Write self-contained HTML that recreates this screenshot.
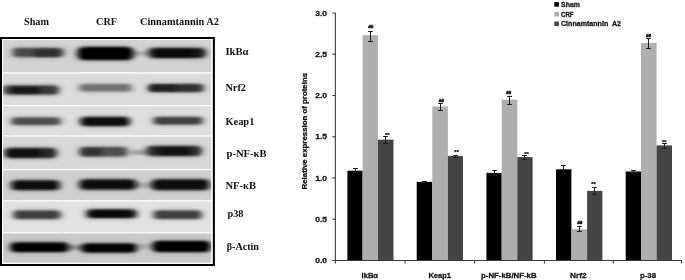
<!DOCTYPE html>
<html><head><meta charset="utf-8"><title>Figure</title>
<style>
html,body{margin:0;padding:0;background:#fff;}
body{width:685px;height:280px;overflow:hidden;}
svg{display:block}
.h{font-family:"Liberation Serif","DejaVu Serif",serif;font-weight:bold;font-size:11px;fill:#111}
.c{font-family:"Liberation Sans","DejaVu Sans",sans-serif;font-weight:bold;fill:#151515;stroke:#151515;stroke-width:0.3px}
</style></head><body>
<svg width="685" height="280" viewBox="0 0 685 280">
<defs>
<filter id="b" x="-20%" y="-60%" width="140%" height="220%"><feGaussianBlur stdDeviation="3 1.3"/></filter>
<filter id="b2" x="-30%" y="-100%" width="160%" height="300%"><feGaussianBlur stdDeviation="2.5 1.2"/></filter>
<filter id="b3" x="-30%" y="-100%" width="160%" height="300%"><feGaussianBlur stdDeviation="4 2.4"/></filter>
<clipPath id="cp"><rect x="3" y="39.5" width="208.4" height="223.1"/></clipPath>
<filter id="t" x="-5%" y="-20%" width="110%" height="140%"><feGaussianBlur stdDeviation="0.3"/></filter>
</defs>
<rect x="0" y="0" width="685" height="280" fill="#fff"/>

<rect x="1" y="38" width="212.7" height="227" fill="#fff" stroke="#000" stroke-width="2"/>
<rect x="3" y="39.5" width="208.4" height="32.7" fill="#d3d3d3"/>
<rect x="3" y="73.6" width="208.4" height="31.4" fill="#dcdcdc"/>
<rect x="3" y="106.2" width="208.4" height="29.2" fill="#dedede"/>
<rect x="3" y="136.6" width="208.4" height="32.4" fill="#d8d8d8"/>
<rect x="3" y="170.2" width="208.4" height="30.0" fill="#d0d0d0"/>
<rect x="3" y="201.4" width="208.4" height="30.8" fill="#e2e2e2"/>
<rect x="3" y="233.4" width="208.4" height="29.2" fill="#cacaca"/>
<g clip-path="url(#cp)">
<g filter="url(#b2)">
<rect x="132" y="51.5" width="18" height="4.0" rx="2.0" fill="#a8a8a8"/>
<rect x="130" y="150" width="20" height="5.0" rx="2.5" fill="#a4a4a4"/>
<rect x="134" y="183" width="20" height="5.0" rx="2.5" fill="#aaaaaa"/>
<rect x="66" y="245" width="18" height="5.0" rx="2.5" fill="#8c8c8c"/>
<rect x="135" y="244" width="20" height="5.0" rx="2.5" fill="#aaaaaa"/>
</g>
<g filter="url(#b3)" opacity="0.35">
<rect x="12" y="47.5" width="52" height="10.0" rx="5.0" fill="#4c4c4c"/>
<rect x="77" y="46.5" width="57" height="14.0" rx="7.0" fill="#000"/>
<rect x="148" y="47.5" width="58" height="11.0" rx="5.5" fill="#141414"/>
<rect x="3" y="85.1" width="56" height="9.8" rx="4.9" fill="#383838"/>
<rect x="79" y="83.5" width="53" height="8.6" rx="4.3" fill="#737373"/>
<rect x="148" y="83.5" width="56" height="9.0" rx="4.5" fill="#303030"/>
<rect x="11" y="117.1" width="50" height="8.4" rx="4.2" fill="#505050"/>
<rect x="80" y="116.5" width="50" height="10.0" rx="5.0" fill="#0c0c0c"/>
<rect x="153" y="116.5" width="50" height="8.4" rx="4.2" fill="#404040"/>
<rect x="4" y="147.5" width="53" height="11.0" rx="5.5" fill="#262626"/>
<rect x="79" y="146.5" width="49" height="10.4" rx="5.2" fill="#505050"/>
<rect x="146" y="145.5" width="56" height="11.0" rx="5.5" fill="#2a2a2a"/>
<rect x="11" y="180.1" width="49" height="10.4" rx="5.2" fill="#080808"/>
<rect x="79" y="178.9" width="58" height="11.0" rx="5.5" fill="#080808"/>
<rect x="151" y="178.9" width="59" height="11.6" rx="5.8" fill="#0c0c0c"/>
<rect x="13" y="210.1" width="48" height="9.4" rx="4.7" fill="#404040"/>
<rect x="86" y="208.9" width="51" height="9.6" rx="4.8" fill="#121212"/>
<rect x="153" y="210.1" width="49" height="9.4" rx="4.7" fill="#404040"/>
<rect x="10" y="241.9" width="59" height="10.6" rx="5.3" fill="#050505"/>
<rect x="81" y="242.9" width="56" height="10.2" rx="5.1" fill="#050505"/>
<rect x="152" y="240.5" width="59" height="12.0" rx="6.0" fill="#050505"/>
</g>
<g filter="url(#b)">
<rect x="13" y="48.0" width="50" height="9.0" rx="3.8" fill="#4c4c4c"/>
<rect x="78" y="47.0" width="55" height="13.0" rx="5.4" fill="#000"/>
<rect x="149" y="48.0" width="56" height="10.0" rx="4.2" fill="#141414"/>
<rect x="4" y="85.6" width="54" height="8.8" rx="3.7" fill="#383838"/>
<rect x="80" y="84.0" width="51" height="7.6" rx="3.2" fill="#737373"/>
<rect x="149" y="84.0" width="54" height="8.0" rx="3.3" fill="#303030"/>
<rect x="12" y="117.6" width="48" height="7.4" rx="3.1" fill="#505050"/>
<rect x="81" y="117.0" width="48" height="9.0" rx="3.8" fill="#0c0c0c"/>
<rect x="154" y="117.0" width="48" height="7.4" rx="3.1" fill="#404040"/>
<rect x="5" y="148.0" width="51" height="10.0" rx="4.2" fill="#262626"/>
<rect x="80" y="147.0" width="47" height="9.4" rx="3.9" fill="#505050"/>
<rect x="147" y="146.0" width="54" height="10.0" rx="4.2" fill="#2a2a2a"/>
<rect x="12" y="180.6" width="47" height="9.4" rx="3.9" fill="#080808"/>
<rect x="80" y="179.4" width="56" height="10.0" rx="4.2" fill="#080808"/>
<rect x="152" y="179.4" width="57" height="10.6" rx="4.4" fill="#0c0c0c"/>
<rect x="14" y="210.6" width="46" height="8.4" rx="3.5" fill="#404040"/>
<rect x="87" y="209.4" width="49" height="8.6" rx="3.6" fill="#121212"/>
<rect x="154" y="210.6" width="47" height="8.4" rx="3.5" fill="#404040"/>
<rect x="11" y="242.4" width="57" height="9.6" rx="4.0" fill="#050505"/>
<rect x="82" y="243.4" width="54" height="9.2" rx="3.8" fill="#050505"/>
<rect x="153" y="241.0" width="57" height="11.0" rx="4.6" fill="#050505"/>
</g>
<g filter="url(#b2)">
<rect x="34" y="49.5" width="26" height="7.0" rx="3.5" fill="#222" opacity="0.7"/>
<rect x="156" y="49.5" width="38" height="7.5" rx="3.8" fill="#000" opacity="0.6"/>
<rect x="12" y="87" width="28" height="6.5" rx="3.2" fill="#000" opacity="0.6"/>
<rect x="150" y="85.5" width="26" height="5.5" rx="2.8" fill="#111" opacity="0.6"/>
<rect x="8" y="149.5" width="32" height="7.5" rx="3.8" fill="#000" opacity="0.6"/>
<rect x="82" y="148.5" width="20" height="7.0" rx="3.5" fill="#222" opacity="0.6"/>
<rect x="158" y="147.5" width="32" height="7.5" rx="3.8" fill="#000" opacity="0.6"/>
<rect x="92" y="210.5" width="38" height="6.5" rx="3.2" fill="#000" opacity="0.6"/>
</g>
</g>
<rect x="1" y="38" width="212.7" height="227" fill="none" stroke="#000" stroke-width="2"/>
<rect x="2.5" y="39.5" width="209.7" height="224" fill="none" stroke="#fff" stroke-width="1"/>
<g filter="url(#t)">
<text class="h" x="24" y="25" textLength="25" lengthAdjust="spacingAndGlyphs">Sham</text>
<text class="h" x="96" y="25" textLength="21" lengthAdjust="spacingAndGlyphs">CRF</text>
<text class="h" x="140" y="25" textLength="79" lengthAdjust="spacingAndGlyphs">Cinnamtannin A2</text>
<text class="h" x="225.4" y="55.4" textLength="23.2" lengthAdjust="spacingAndGlyphs">IkBα</text>
<text class="h" x="225.4" y="91.4" textLength="20.6" lengthAdjust="spacingAndGlyphs">Nrf2</text>
<text class="h" x="225.4" y="124.7" textLength="29.0" lengthAdjust="spacingAndGlyphs">Keap1</text>
<text class="h" x="226.5" y="156.5" textLength="40.1" lengthAdjust="spacingAndGlyphs">p-NF-κB</text>
<text class="h" x="225.4" y="189.1" textLength="30.6" lengthAdjust="spacingAndGlyphs">NF-κB</text>
<text class="h" x="227.4" y="216.7" textLength="16.1" lengthAdjust="spacingAndGlyphs">p38</text>
<text class="h" x="226.7" y="250.3" textLength="32.3" lengthAdjust="spacingAndGlyphs">β-Actin</text>
</g>
<g stroke="#3c3c3c" stroke-width="1.1" fill="none">
<line x1="335.35" y1="13" x2="335.35" y2="260.9"/>
<line x1="332.35" y1="260.5" x2="681.8" y2="260.5"/>
<line x1="332.35" y1="260.50" x2="335.35" y2="260.50"/>
<line x1="332.35" y1="219.25" x2="335.35" y2="219.25"/>
<line x1="332.35" y1="178.00" x2="335.35" y2="178.00"/>
<line x1="332.35" y1="136.75" x2="335.35" y2="136.75"/>
<line x1="332.35" y1="95.50" x2="335.35" y2="95.50"/>
<line x1="332.35" y1="54.25" x2="335.35" y2="54.25"/>
<line x1="332.35" y1="13.00" x2="335.35" y2="13.00"/>
<line x1="335.35" y1="260.5" x2="335.35" y2="263.5"/>
<line x1="405.00" y1="260.5" x2="405.00" y2="263.5"/>
<line x1="474.50" y1="260.5" x2="474.50" y2="263.5"/>
<line x1="544.40" y1="260.5" x2="544.40" y2="263.5"/>
<line x1="613.40" y1="260.5" x2="613.40" y2="263.5"/>
<line x1="681.50" y1="260.5" x2="681.50" y2="263.5"/>
</g>
<rect x="347.4" y="170.7" width="15.2" height="89.3" fill="#000"/>
<rect x="362.6" y="35.2" width="15.3" height="224.8" fill="#aeaeae"/>
<rect x="377.9" y="139.7" width="15.6" height="120.3" fill="#444"/>
<rect x="416.7" y="181.9" width="15.6" height="78.1" fill="#000"/>
<rect x="432.3" y="106.5" width="15.6" height="153.5" fill="#aeaeae"/>
<rect x="447.9" y="156.1" width="15.1" height="103.9" fill="#444"/>
<rect x="486.4" y="172.9" width="15.3" height="87.1" fill="#000"/>
<rect x="501.7" y="99.6" width="15.6" height="160.4" fill="#aeaeae"/>
<rect x="517.3" y="157.1" width="15.3" height="102.9" fill="#444"/>
<rect x="556.0" y="169.3" width="15.4" height="90.7" fill="#000"/>
<rect x="571.4" y="229.2" width="15.7" height="30.8" fill="#aeaeae"/>
<rect x="587.1" y="190.9" width="15.3" height="69.1" fill="#444"/>
<rect x="625.7" y="171.5" width="15.3" height="88.5" fill="#000"/>
<rect x="641.0" y="42.9" width="15.6" height="217.1" fill="#aeaeae"/>
<rect x="656.6" y="145.4" width="15.4" height="114.6" fill="#444"/>
<g stroke="#1c1c1c" stroke-width="1" fill="none">
<path d="M355.50 168.50V172.50M353.10 168.50H357.90M353.10 172.50H357.90"/>
<path d="M370.50 31.50V41.50M368.10 31.50H372.90M368.10 41.50H372.90"/>
<path d="M385.50 136.50V143.50M383.10 136.50H387.90M383.10 143.50H387.90"/>
<path d="M424.50 181.50V182.50M422.10 181.50H426.90M422.10 182.50H426.90"/>
<path d="M440.50 103.50V110.50M438.10 103.50H442.90M438.10 110.50H442.90"/>
<path d="M455.50 155.50V157.50M453.10 155.50H457.90M453.10 157.50H457.90"/>
<path d="M494.50 170.50V175.50M492.10 170.50H496.90M492.10 175.50H496.90"/>
<path d="M509.50 96.50V104.50M507.10 96.50H511.90M507.10 104.50H511.90"/>
<path d="M524.50 155.50V159.50M522.10 155.50H526.90M522.10 159.50H526.90"/>
<path d="M563.50 165.50V173.50M561.10 165.50H565.90M561.10 173.50H565.90"/>
<path d="M579.50 226.50V231.50M577.10 226.50H581.90M577.10 231.50H581.90"/>
<path d="M594.50 187.50V194.50M592.10 187.50H596.90M592.10 194.50H596.90"/>
<path d="M633.50 170.50V172.50M631.10 170.50H635.90M631.10 172.50H635.90"/>
<path d="M648.50 38.50V48.50M646.10 38.50H650.90M646.10 48.50H650.90"/>
<path d="M664.50 143.50V148.50M662.10 143.50H666.90M662.10 148.50H666.90"/>
</g>
<g class="c" text-anchor="middle">
<text x="370.85" y="27.90" font-size="4.2px" stroke-width="0.45" textLength="5.2" lengthAdjust="spacingAndGlyphs">##</text>
<text x="441.30" y="101.90" font-size="4.2px" stroke-width="0.45" textLength="5.2" lengthAdjust="spacingAndGlyphs">##</text>
<text x="508.60" y="94.30" font-size="4.2px" stroke-width="0.45" textLength="5.2" lengthAdjust="spacingAndGlyphs">##</text>
<text x="579.85" y="223.60" font-size="4.2px" stroke-width="0.45" textLength="5.2" lengthAdjust="spacingAndGlyphs">##</text>
<text x="648.50" y="36.90" font-size="4.2px" stroke-width="0.45" textLength="5.2" lengthAdjust="spacingAndGlyphs">##</text>
<text x="387.35" y="136.90" font-size="4.5px" stroke-width="0.2" textLength="4.6" lengthAdjust="spacingAndGlyphs">**</text>
<text x="456.65" y="153.80" font-size="4.5px" stroke-width="0.2" textLength="4.6" lengthAdjust="spacingAndGlyphs">**</text>
<text x="526.45" y="155.50" font-size="4.5px" stroke-width="0.2" textLength="4.6" lengthAdjust="spacingAndGlyphs">**</text>
<text x="593.55" y="185.50" font-size="4.5px" stroke-width="0.2" textLength="4.6" lengthAdjust="spacingAndGlyphs">**</text>
<text x="664.30" y="143.50" font-size="4.5px" stroke-width="0.2" textLength="4.6" lengthAdjust="spacingAndGlyphs">**</text>
</g>
<g class="c" font-size="8px" text-anchor="end">
<text x="327" y="263.20" textLength="11.8" lengthAdjust="spacingAndGlyphs">0.0</text>
<text x="327" y="221.95" textLength="11.8" lengthAdjust="spacingAndGlyphs">0.5</text>
<text x="327" y="180.70" textLength="11.8" lengthAdjust="spacingAndGlyphs">1.0</text>
<text x="327" y="139.45" textLength="11.8" lengthAdjust="spacingAndGlyphs">1.5</text>
<text x="327" y="98.20" textLength="11.8" lengthAdjust="spacingAndGlyphs">2.0</text>
<text x="327" y="56.95" textLength="11.8" lengthAdjust="spacingAndGlyphs">2.5</text>
<text x="327" y="15.70" textLength="11.8" lengthAdjust="spacingAndGlyphs">3.0</text>
</g>
<g class="c" font-size="8px" text-anchor="middle">
<text x="369.80" y="278" textLength="16.4" lengthAdjust="spacingAndGlyphs">IkBα</text>
<text x="439.70" y="278" textLength="22.6" lengthAdjust="spacingAndGlyphs">Keap1</text>
<text x="508.80" y="278" textLength="55.6" lengthAdjust="spacingAndGlyphs">p-NF-kB/NF-kB</text>
<text x="578.30" y="278" textLength="16.6" lengthAdjust="spacingAndGlyphs">Nrf2</text>
<text x="648.00" y="278" textLength="16" lengthAdjust="spacingAndGlyphs">p-38</text>
</g>
<text class="c" font-size="7.6px" text-anchor="middle" transform="translate(306.6,131.2) rotate(-90)" textLength="116.5" lengthAdjust="spacingAndGlyphs">Relative expression of proteins</text>
<rect x="554.3" y="2.1" width="4.6" height="4.6" fill="#000"/>
<text class="c" font-size="7.8px" x="561" y="6.9" textLength="19" lengthAdjust="spacingAndGlyphs" xml:space="preserve">Sham</text>
<rect x="554.3" y="11.9" width="4.6" height="4.6" fill="#aeaeae"/>
<text class="c" font-size="7.8px" x="561" y="16.7" textLength="12.6" lengthAdjust="spacingAndGlyphs" xml:space="preserve">CRF</text>
<rect x="554.3" y="21.5" width="4.6" height="4.6" fill="#444"/>
<text class="c" font-size="7.8px" x="561" y="26.3" textLength="60" lengthAdjust="spacingAndGlyphs" xml:space="preserve">Cinnamtannin  A2</text>
</svg></body></html>
